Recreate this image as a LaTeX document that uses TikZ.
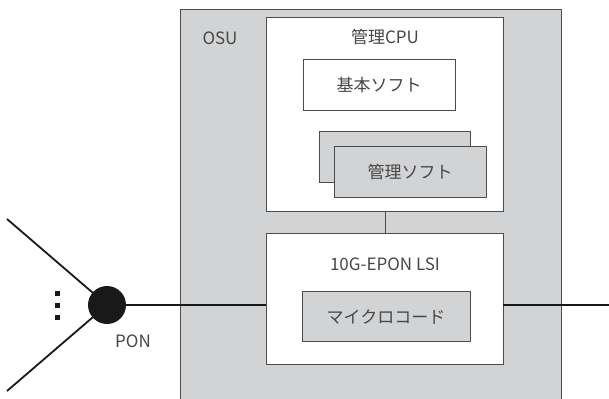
\documentclass[tikz,border=0pt]{standalone}
\usepackage{fontspec}
\setmainfont{Noto Sans CJK JP}
\begin{document}
\begin{tikzpicture}[x=1pt,y=-1pt,
  box/.style={draw=black!70,line width=0.8pt},
  wbox/.style={box,fill=white},
  gbox/.style={box,fill=osugray},
  txt/.style={font=\fontsize{17}{20}\selectfont,text=black!72},
  mainline/.style={line width=1.8pt,black!90}]
\definecolor{osugray}{HTML}{D2D3D5}
\useasboundingbox (0,0) rectangle (609,398);
\fill[osugray] (180,9) rectangle (561,400);
\draw[box] (180,400) -- (180,9) -- (561,9) -- (561,400);
\node[txt] (osu) at (220,38) {OSU};
% CPU
\draw[wbox] (266,17) rectangle (503,211);
\coordinate (cpub) at (385,211);
\node[txt] (cpu) at (385,37) {管理CPU};
\draw[wbox] (303,59) rectangle (455,110);
\node[txt] (kihon) at (379,85) {基本ソフト};
\draw[gbox] (319,131) rectangle (470,182);
\draw[gbox] (334,146) rectangle (486,197);
\node[txt] (kanri) at (410,172) {管理ソフト};
% LSI
\draw[wbox] (266,233) rectangle (503,364);
\coordinate (lsit) at (385,233);
\coordinate (lsil) at (266,305);
\coordinate (lsir) at (503,305);
\node[txt] (lsi) at (385,264) {10G-EPON LSI};
\draw[gbox] (302,291) rectangle (470,341);
\node[txt] (micro) at (386,317) {マイクロコード};
\draw[box] (cpub) -- (lsit);
% PON
\node[circle,fill=black!90,minimum size=38pt,inner sep=0pt] (pon) at (107,305) {};
\node[txt] (ponl) at (133,341) {PON};
\coordinate (a) at (7,219);
\coordinate (b) at (7,391);
\coordinate (e) at (609,305);
\draw[mainline] (a) -- (pon.center);
\draw[mainline] (b) -- (pon.center);
\draw[mainline] (pon) -- (lsil);
\draw[mainline] (lsir) -- (e);
\foreach \yy in {293,305,317} \fill[black!90] (54.5,\yy-2.5) rectangle (59.5,\yy+2.5);
\end{tikzpicture}
\end{document}
